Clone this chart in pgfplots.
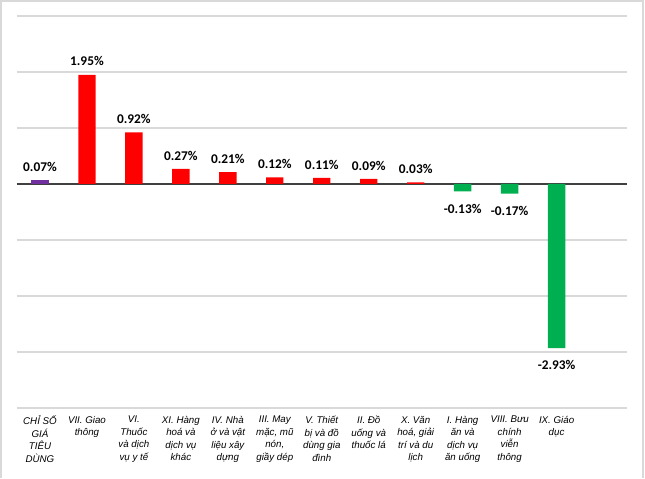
\documentclass[border=0pt]{standalone}
\usepackage{pgfplots}
\pgfplotsset{compat=1.18}
\usepackage{fontspec}
\setmainfont{Liberation Sans}
\newfontfamily\calibri{Carlito}
\definecolor{gridgray}{HTML}{D9D9D9}
\definecolor{barred}{HTML}{FF0000}
\definecolor{barpurple}{HTML}{7030A0}
\definecolor{bargreen}{HTML}{00B050}
\begin{document}
\begin{tikzpicture}
\useasboundingbox (0pt,0pt) rectangle (483.75pt,358.5pt);
% outer frame (left, top, right)
\draw[gridgray, line width=1.5pt] (0.75pt,0pt) -- (0.75pt,357.75pt) -- (482.6pt,357.75pt) -- (482.6pt,0pt);
\begin{axis}[
    at={(12.375pt,52.5pt)}, anchor=south west,
    scale only axis,
    width=457.9pt, height=294pt,
    xmin=-0.5, xmax=12.5,
    ymin=-4, ymax=3,
    ytick={-4,-3,-2,-1,1,2,3},
    yticklabels={},
    ymajorgrids,
    grid style={gridgray, line width=0.9pt},
    extra y ticks={0},
    extra y tick labels={},
    extra y tick style={grid style={black!75, line width=0.9pt}, major tick length=0pt},
    axis line style={draw=none},
    major tick length=0pt,
    xtick={0,...,11},
    xticklabels={
        {CHỈ SỐ\\GIÁ\\TIÊU\\DÙNG},
        {VII. Giao\\thông},
        {VI.\\Thuốc\\và dịch\\vụ y tế},
        {XI. Hàng\\hoá và\\dịch vụ\\khác},
        {IV. Nhà\\ở và vật\\liệu xây\\dựng},
        {III. May\\mặc, mũ\\nón,\\giầy dép},
        {V. Thiết\\bị và đồ\\dùng gia\\đình},
        {II. Đồ\\uống và\\thuốc lá},
        {X. Văn\\hoá, giải\\trí và du\\lịch},
        {I. Hàng\\ăn và\\dịch vụ\\ăn uống},
        {VIII. Bưu\\chính\\viễn\\thông},
        {IX. Giáo\\dục}},
    xticklabel style={font=\itshape\fontsize{7.3}{9.4}\selectfont, align=center, anchor=north, yshift=-2.5pt},
    ybar, bar width=13pt, bar shift=0pt,
    point meta=explicit symbolic,
    nodes near coords,
    every node near coord/.append style={font=\calibri\bfseries\fontsize{10}{12}\selectfont, text=black, yshift=3pt},
]
\addplot[fill=barpurple, draw=none] coordinates {(0,0.07) [0.07\%]};
\addplot[fill=barred, draw=none] coordinates {
    (1,1.95) [1.95\%]
    (2,0.92) [0.92\%]
    (3,0.27) [0.27\%]
    (4,0.21) [0.21\%]
    (5,0.12) [0.12\%]
    (6,0.11) [0.11\%]
    (7,0.09) [0.09\%]
    (8,0.03) [0.03\%]
};
\addplot[fill=bargreen, draw=none,
    every node near coord/.append style={anchor=north, yshift=-9pt}] coordinates {
    (9,-0.13) [-0.13\%]
    (10,-0.17) [-0.17\%]
    (11,-2.93) [-2.93\%]
};
\end{axis}
\end{tikzpicture}
\end{document}
